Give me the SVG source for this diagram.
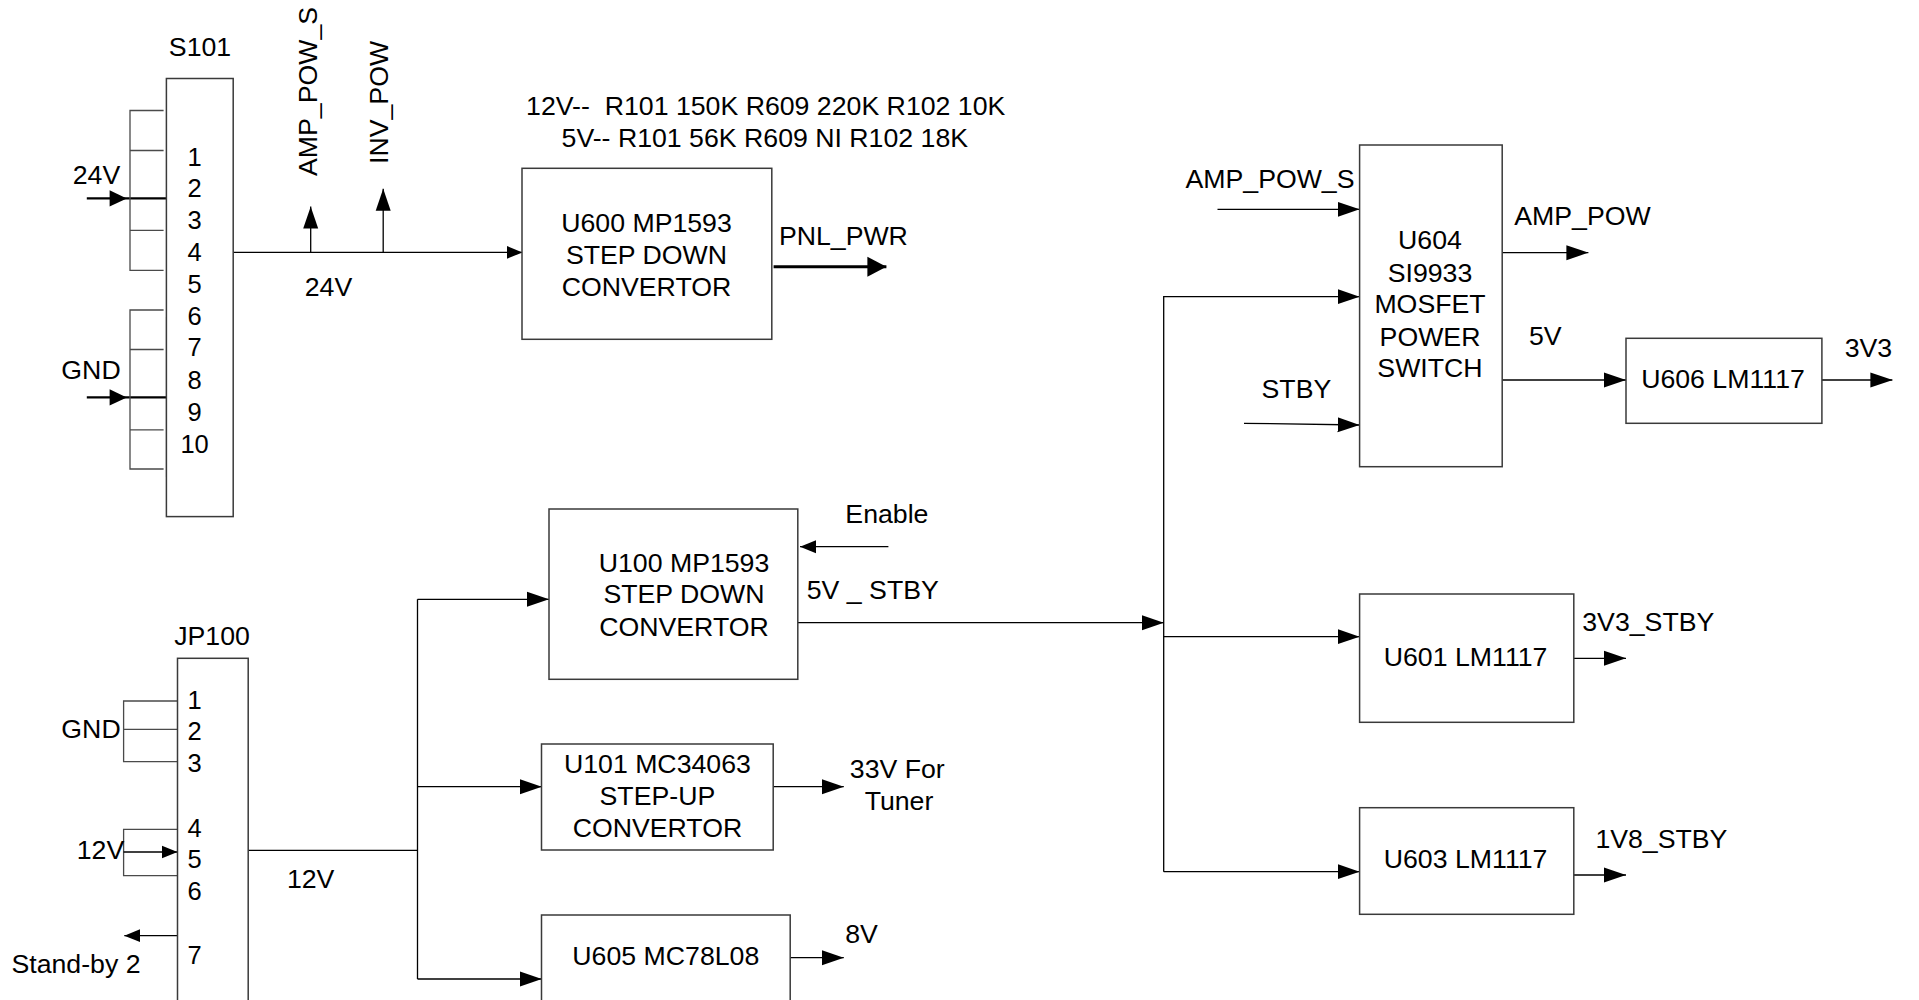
<svg xmlns="http://www.w3.org/2000/svg" width="1919" height="1000" viewBox="0 0 1919 1000">
<style>
text{font-family:"Liberation Sans",Arial,sans-serif;font-size:26.7px;fill:#000}
.c{text-anchor:middle}
.p{font-size:25.5px}
.box{fill:#fff;stroke:#3a3a3a;stroke-width:1.5}
.w{fill:none;stroke:#000;stroke-width:1.3}
.br{fill:none;stroke:#4a4a4a;stroke-width:1.3}
.th{fill:none;stroke:#000;stroke-width:2.2}
.big{fill:none;stroke:#000;stroke-width:3}
.ah{fill:#000}
</style>
<defs>
<marker id="m" markerUnits="userSpaceOnUse" markerWidth="22" markerHeight="16" refX="22" refY="8" orient="auto"><path d="M0,0.5 L22,8 L0,15.5 z" fill="#000"/></marker>
<marker id="s" markerUnits="userSpaceOnUse" markerWidth="16" markerHeight="14" refX="16" refY="7" orient="auto"><path d="M0,0.5 L16,7 L0,13.5 z" fill="#000"/></marker>
<marker id="b" markerUnits="userSpaceOnUse" markerWidth="20" markerHeight="21" refX="19" refY="10.5" orient="auto"><path d="M0,0.5 L19,10.5 L0,20.5 z" fill="#000"/></marker>
</defs>
<rect width="1919" height="1000" fill="#fff"/>

<g id="connectors">
<line class="th" x1="86.8" y1="198.4" x2="166.4" y2="198.4"/>
<polygon class="ah" points="109.6,190.3 126.8,198.4 109.6,206.5"/>
<line class="th" x1="86.8" y1="397.4" x2="166.4" y2="397.4"/>
<polygon class="ah" points="109.6,389.3 126.8,397.4 109.6,405.5"/>
<path class="br" d="M163.6,110.5 H130 V270.3 H163.6 M130,150.5 H163.6 M130,230.4 H163.6"/>
<path class="br" d="M163.6,310 H130 V469 H163.6 M130,349.5 H163.6 M130,429.8 H163.6"/>
<line class="w" x1="166.6" y1="317" x2="166.6" y2="477"/>
<line class="w" x1="233.2" y1="252.4" x2="522.5" y2="252.4" marker-end="url(#s)"/>
<line class="w" x1="310.7" y1="252.4" x2="310.7" y2="206.6" marker-end="url(#m)"/>
<line class="w" x1="383.2" y1="252.4" x2="383.2" y2="188.7" marker-end="url(#m)"/>
<line class="big" x1="773.6" y1="266.7" x2="886.4" y2="266.7" marker-end="url(#b)"/>
<line class="w" x1="1217.5" y1="209.3" x2="1359.6" y2="209.3" marker-end="url(#m)"/>
<path class="w" d="M1163.7,871.7 V296.7 H1359.6" marker-end="url(#m)"/>
<line class="w" x1="1244" y1="423.3" x2="1359.6" y2="425" marker-end="url(#m)"/>
<line class="w" x1="1502.2" y1="252.7" x2="1588.4" y2="252.7" marker-end="url(#m)"/>
<line class="w" x1="1499.6" y1="380" x2="1626" y2="380" marker-end="url(#m)"/>
<line class="w" x1="1822" y1="380" x2="1892.4" y2="380" marker-end="url(#m)"/>
<line class="w" x1="797.8" y1="622.7" x2="1163.8" y2="622.7" marker-end="url(#m)"/>
<line class="w" x1="1163.7" y1="636.7" x2="1359.6" y2="636.7" marker-end="url(#m)"/>
<line class="w" x1="1163.7" y1="871.7" x2="1359.6" y2="871.7" marker-end="url(#m)"/>
<line class="w" x1="1573.8" y1="658.3" x2="1626" y2="658.3" marker-end="url(#m)"/>
<line class="w" x1="1573.8" y1="875" x2="1626" y2="875" marker-end="url(#m)"/>
<line class="w" x1="888.4" y1="546.7" x2="800" y2="546.7" marker-end="url(#s)"/>
<line class="w" x1="248.2" y1="850.3" x2="417.5" y2="850.3"/>
<line class="w" x1="417.5" y1="599.3" x2="417.5" y2="979"/>
<line class="w" x1="417.5" y1="599.3" x2="549" y2="599.3" marker-end="url(#m)"/>
<line class="w" x1="417.5" y1="786.7" x2="541.8" y2="786.7" marker-end="url(#m)"/>
<line class="w" x1="417.5" y1="979" x2="541.8" y2="979" marker-end="url(#m)"/>
<line class="w" x1="773.2" y1="786.7" x2="843.8" y2="786.7" marker-end="url(#m)"/>
<line class="w" x1="790.2" y1="957.7" x2="843.8" y2="957.7" marker-end="url(#m)"/>
<path class="br" d="M177.5,701 H123.6 V761.7 H177.5 M123.6,729.3 H177.5"/>
<path class="br" d="M177.5,829.3 H123.6 V875.7 H177.5"/>
<line class="w" x1="123.6" y1="852" x2="177.5" y2="852" marker-end="url(#s)"/>
<line class="w" x1="177.5" y1="935.7" x2="124.3" y2="935.7" marker-end="url(#s)"/>
</g>

<g id="S101">
<rect class="box" x="166.4" y="78.5" width="66.8" height="438.1"/>
<text class="c" x="200" y="56">S101</text>
<text class="c p" x="194.6" y="165.5">1</text>
<text class="c p" x="194.6" y="197">2</text>
<text class="c p" x="194.6" y="229">3</text>
<text class="c p" x="194.6" y="260.7">4</text>
<text class="c p" x="194.6" y="292.7">5</text>
<text class="c p" x="194.6" y="325.4">6</text>
<text class="c p" x="194.6" y="356.4">7</text>
<text class="c p" x="194.6" y="389">8</text>
<text class="c p" x="194.6" y="420.8">9</text>
<text class="c p" x="194.6" y="452.8">10</text>
<text class="c" x="96.5" y="184">24V</text>
<text class="c" x="91" y="379">GND</text>
</g>

<g id="labels-24v">
<text transform="translate(316.6,176) rotate(-90)">AMP_POW_S</text>
<text transform="translate(388.2,164) rotate(-90)">INV_POW</text>
<text class="c" x="328.5" y="296">24V</text>
<text class="c" x="765.7" y="115">12V--&#160; R101 150K R609 220K R102 10K</text>
<text class="c" x="764.8" y="146.7">5V-- R101 56K R609 NI R102 18K</text>
</g>

<g id="U600">
<rect class="box" x="522" y="168.3" width="249.8" height="171"/>
<text class="c" x="646.5" y="232.3">U600 MP1593</text>
<text class="c" x="646.5" y="264.3">STEP DOWN</text>
<text class="c" x="646.5" y="296">CONVERTOR</text>
<text class="c" x="843.4" y="245">PNL_PWR</text>
</g>

<g id="U604">
<rect class="box" x="1359.6" y="145" width="142.6" height="321.7"/>
<text class="c" x="1430" y="249.3">U604</text>
<text class="c" x="1430" y="281.7">SI9933</text>
<text class="c" x="1430" y="313.3">MOSFET</text>
<text class="c" x="1430" y="345.7">POWER</text>
<text class="c" x="1430" y="376.7">SWITCH</text>
<text class="c" x="1270" y="188">AMP_POW_S</text>
<text class="c" x="1296.4" y="398.3">STBY</text>
<text class="c" x="1582.5" y="225">AMP_POW</text>
<text class="c" x="1545.3" y="345">5V</text>
</g>

<g id="U606">
<rect class="box" x="1626" y="338.3" width="195.9" height="85"/>
<text class="c" x="1723" y="388.3">U606 LM1117</text>
<text class="c" x="1868.4" y="357.3">3V3</text>
</g>

<g id="U100">
<rect class="box" x="549" y="509" width="248.8" height="170.3"/>
<text class="c" x="684" y="571.7">U100 MP1593</text>
<text class="c" x="684" y="603.3">STEP DOWN</text>
<text class="c" x="684" y="635.7">CONVERTOR</text>
<text class="c" x="886.9" y="523.3">Enable</text>
<text class="c" x="872.8" y="599.3">5V _ STBY</text>
</g>

<g id="JP100">
<rect class="box" x="177.5" y="658.3" width="70.7" height="345"/>
<text class="c" x="212" y="645">JP100</text>
<text class="c p" x="194.6" y="709.3">1</text>
<text class="c p" x="194.6" y="740">2</text>
<text class="c p" x="194.6" y="772.3">3</text>
<text class="c p" x="194.6" y="836.7">4</text>
<text class="c p" x="194.6" y="868.3">5</text>
<text class="c p" x="194.6" y="900">6</text>
<text class="c p" x="194.6" y="964">7</text>
<text class="c" x="91" y="738.3">GND</text>
<text class="c" x="100.5" y="859">12V</text>
<text class="c" x="76" y="973.3">Stand-by 2</text>
<text class="c" x="310.7" y="888.3">12V</text>
</g>

<g id="U101">
<rect class="box" x="541.5" y="744" width="231.7" height="106"/>
<text class="c" x="657.4" y="773.3">U101 MC34063</text>
<text class="c" x="657.4" y="805">STEP-UP</text>
<text class="c" x="657.4" y="836.7">CONVERTOR</text>
<text class="c" x="897.3" y="778.3">33V For</text>
<text class="c" x="899" y="810">Tuner</text>
</g>

<g id="U605">
<rect class="box" x="541.5" y="915" width="248.7" height="90"/>
<text class="c" x="665.8" y="965">U605 MC78L08</text>
<text class="c" x="861.6" y="943.3">8V</text>
</g>

<g id="U601">
<rect class="box" x="1359.6" y="594" width="214.2" height="128.3"/>
<text class="c" x="1465.6" y="666">U601 LM1117</text>
<text class="c" x="1648.3" y="631">3V3_STBY</text>
</g>

<g id="U603">
<rect class="box" x="1359.6" y="807.7" width="214.2" height="106.6"/>
<text class="c" x="1465.6" y="868.3">U603 LM1117</text>
<text class="c" x="1661.4" y="848.3">1V8_STBY</text>
</g>
</svg>
